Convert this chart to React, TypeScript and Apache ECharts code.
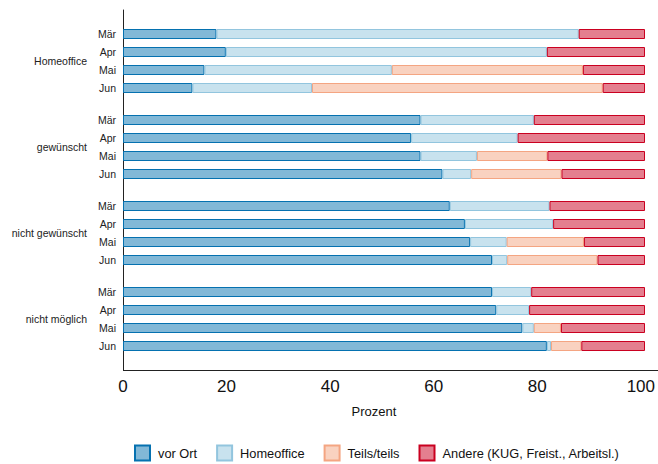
import React, { useEffect, useRef } from "react";
import * as echarts from "echarts";

const months = ["Mär", "Apr", "Mai", "Jun"];
const groups = ["Homeoffice", "gewünscht", "nicht gewünscht", "nicht möglich"];
const seriesNames = ["vor Ort", "Homeoffice", "Teils/teils", "Andere (KUG, Freist., Arbeitsl.)"];
const xTicks = [0, 20, 40, 60, 80, 100];

// values per group: [vor Ort, Homeoffice, Teils/teils, Andere], each over months
const homeofficeGroup = [
  [17.9, 19.7, 15.6, 13.3],
  [69.4, 61.5, 35.9, 22.9],
  [0, 0, 36.6, 55.7],
  [12.7, 18.8, 11.9, 8.1],
];
const gewuenschtGroup = [
  [57.0, 55.2, 57.0, 61.2],
  [21.7, 20.4, 10.8, 5.5],
  [0, 0, 13.5, 17.3],
  [21.3, 24.4, 18.7, 16.0],
];
const nichtGewuenschtGroup = [
  [62.6, 65.5, 66.5, 70.7],
  [19.1, 16.9, 7.0, 2.9],
  [0, 0, 14.8, 17.3],
  [18.3, 17.6, 11.7, 9.1],
];
const nichtMoeglichGroup = [
  [70.7, 71.5, 76.5, 81.2],
  [7.5, 6.3, 2.2, 0.8],
  [0, 0, 5.2, 5.8],
  [21.8, 22.2, 16.1, 12.2],
];
const groupData = [homeofficeGroup, gewuenschtGroup, nichtGewuenschtGroup, nichtMoeglichGroup];

const fills = ["#82b8d7", "#c8e2ee", "#f9d2c0", "#e47f8f"];
const borders = ["#0571b0", "#92c5de", "#f4a582", "#ca0020"];

const FONT = "Liberation Sans, Arial, sans-serif";

export default function App() {
  const ref = useRef<HTMLDivElement>(null);
  useEffect(() => {
    if (!ref.current) return;
    const chart = echarts.init(ref.current, null, { renderer: "svg" });
    const left = 123;
    const width = 522;
    const grids: any[] = [{ left, top: 10, width, height: 360 }];
    const xAxes: any[] = [
      {
        gridIndex: 0,
        type: "value",
        min: 0,
        max: 100,
        interval: 20,
        axisLine: { show: false },
        axisTick: { show: false },
        splitLine: { show: false },
        axisLabel: {
          fontFamily: FONT,
          fontSize: 17,
          color: "#111",
          margin: 8,
          customValues: xTicks,
        },
      },
    ];
    const yAxes: any[] = [
      {
        gridIndex: 0,
        type: "value",
        min: 0,
        max: 1,
        axisLine: { show: true, onZero: false, lineStyle: { color: "#222", width: 1 } },
        axisTick: { show: false },
        axisLabel: { show: false },
        splitLine: { show: false },
      },
    ];
    const series: any[] = [];
    groups.forEach((g, gi) => {
      const idx = gi + 1;
      grids.push({ left, width, top: 25 + 86 * gi, height: 72 });
      xAxes.push({
        gridIndex: idx,
        type: "value",
        min: 0,
        max: 100,
        show: false,
      });
      yAxes.push({
        gridIndex: idx,
        type: "category",
        data: months,
        inverse: true,
        axisLine: { show: false },
        axisTick: { show: false },
        splitLine: { show: false },
        axisLabel: { fontFamily: FONT, fontSize: 10.5, color: "#222", margin: 7 },
        name: g,
        nameLocation: "middle",
        nameRotate: 0,
        nameGap: 36,
        nameTextStyle: {
          fontFamily: FONT,
          fontSize: 10.5,
          color: "#222",
          align: "right",
          verticalAlign: "middle",
        },
      });
      groupData[gi].forEach((vals, si) => {
        series.push({
          type: "bar",
          name: seriesNames[si],
          xAxisIndex: idx,
          yAxisIndex: idx,
          stack: "g" + gi,
          barWidth: 10,
          data: vals.map((v) => (v === 0 ? "-" : v)),
          itemStyle: { color: fills[si], borderColor: borders[si], borderWidth: 1 },
          emphasis: { disabled: true },
        });
      });
    });
    chart.setOption({
      animation: false,
      backgroundColor: "#fff",
      grid: grids,
      xAxis: xAxes,
      yAxis: yAxes,
      legend: {
        data: seriesNames,
        left: 134,
        top: 444.5,
        padding: 0,
        icon: "rect",
        itemWidth: 15,
        itemHeight: 15,
        itemGap: 19,
        textStyle: { fontFamily: FONT, fontSize: 12.8, color: "#111", padding: [0, 0, 0, 3] },
      },
      graphic: [
        {
          type: "line",
          shape: { x1: 123, y1: 370.5, x2: 658, y2: 370.5 },
          style: { stroke: "#222", lineWidth: 1 },
        },
        {
          type: "text",
          x: 374,
          y: 411,
          style: {
            text: "Prozent",
            fontFamily: FONT,
            fontSize: 13,
            fill: "#111",
            align: "center",
            verticalAlign: "middle",
          },
        },
      ],
      series,
    });
    return () => chart.dispose();
  }, []);
  return (
    <div
      ref={ref}
      style={{ position: "fixed", left: 0, top: 0, width: 658, height: 464, background: "#fff" }}
    />
  );
}
